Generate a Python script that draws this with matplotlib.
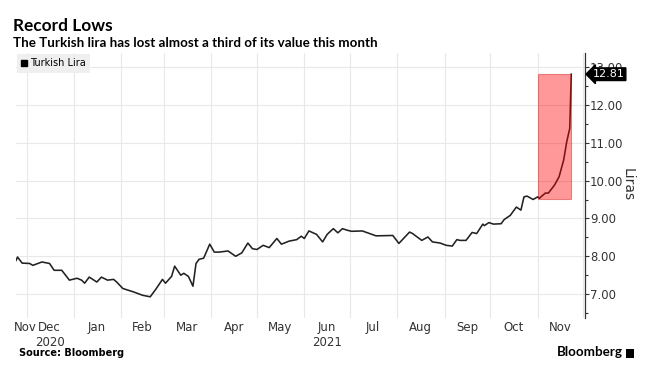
import pandas as pd
import numpy as np
import matplotlib
matplotlib.use("Agg")
import matplotlib.pyplot as plt
import matplotlib.dates as mdates
from matplotlib.lines import Line2D
from matplotlib.patches import Rectangle

# 数据
dates = [
    "2020-11-24", "2020-11-25", "2020-11-28", "2020-12-03", "2020-12-05", "2020-12-11",
    "2020-12-16", "2020-12-19", "2020-12-24", "2020-12-29", "2021-01-03", "2021-01-06",
    "2021-01-08", "2021-01-11", "2021-01-16", "2021-01-19", "2021-01-23", "2021-01-27",
    "2021-01-29", "2021-02-02", "2021-02-09", "2021-02-15", "2021-02-20", "2021-02-24",
    "2021-02-28", "2021-03-02", "2021-03-06", "2021-03-08", "2021-03-12", "2021-03-14",
    "2021-03-17", "2021-03-20", "2021-03-22", "2021-03-24", "2021-03-27", "2021-03-31",
    "2021-04-03", "2021-04-06", "2021-04-12", "2021-04-17", "2021-04-21", "2021-04-25",
    "2021-04-28", "2021-05-01", "2021-05-05", "2021-05-09", "2021-05-14", "2021-05-17",
    "2021-05-22", "2021-05-27", "2021-05-30", "2021-06-01", "2021-06-04", "2021-06-09",
    "2021-06-13", "2021-06-16", "2021-06-20", "2021-06-23", "2021-06-26", "2021-06-29",
    "2021-07-02", "2021-07-09", "2021-07-18", "2021-07-29", "2021-08-02", "2021-08-09",
    "2021-08-11", "2021-08-17", "2021-08-21", "2021-08-24", "2021-08-29", "2021-09-02",
    "2021-09-06", "2021-09-09", "2021-09-11", "2021-09-15", "2021-09-19", "2021-09-22",
    "2021-09-26", "2021-09-27", "2021-09-30", "2021-10-03", "2021-10-08", "2021-10-10",
    "2021-10-14", "2021-10-18", "2021-10-21", "2021-10-23", "2021-10-25", "2021-10-29",
    "2021-11-01", "2021-11-02", "2021-11-06", "2021-11-08", "2021-11-12", "2021-11-15",
    "2021-11-18", "2021-11-20", "2021-11-22", "2021-11-23",
]
lira = [
    7.89, 7.98, 7.82, 7.81, 7.76, 7.85,
    7.81, 7.63, 7.63, 7.37, 7.42, 7.37,
    7.29, 7.45, 7.32, 7.45, 7.37, 7.39,
    7.32, 7.15, 7.06, 6.97, 6.93, 7.15,
    7.39, 7.29, 7.47, 7.74, 7.50, 7.55,
    7.47, 7.21, 7.81, 7.92, 7.95, 8.32,
    8.11, 8.11, 8.14, 8.00, 8.09, 8.35,
    8.20, 8.18, 8.29, 8.23, 8.47, 8.32,
    8.40, 8.44, 8.53, 8.47, 8.67, 8.58,
    8.38, 8.58, 8.73, 8.62, 8.73, 8.69,
    8.66, 8.67, 8.54, 8.55, 8.34, 8.64,
    8.60, 8.42, 8.51, 8.38, 8.35, 8.29,
    8.27, 8.44, 8.42, 8.42, 8.63, 8.60,
    8.85, 8.81, 8.89, 8.85, 8.86, 8.97,
    9.08, 9.30, 9.22, 9.57, 9.59, 9.50,
    9.57, 9.53, 9.67, 9.67, 9.88, 10.10,
    10.54, 11.02, 11.38, 12.81,
]

# 高亮区域 (11月)
highlight_start = "2021-11-01"
highlight_end = "2021-11-23"
highlight_low = 9.52
highlight_high = 12.81

# 月份标签
month_label_dates = ["2020-11-30", "2020-12-16", "2021-01-16", "2021-02-15", "2021-03-16",
                     "2021-04-16", "2021-05-16", "2021-06-16", "2021-07-16", "2021-08-16",
                     "2021-09-16", "2021-10-16", "2021-11-16"]
month_labels = ["Nov", "Dec\n2020", "Jan", "Feb", "Mar", "Apr", "May", "Jun\n2021",
                "Jul", "Aug", "Sep", "Oct", "Nov"]
y_ticks = [7, 8, 9, 10, 11, 12, 13]

series = pd.Series(lira, index=pd.to_datetime(dates))

fig = plt.figure(figsize=(6.52, 3.88), dpi=100)
ax = fig.add_axes([16 / 652, 1 - 318 / 388, (585 - 16) / 652, (318 - 53) / 388])

ax.plot(series.index, series.values, color="#222222", lw=1.15, zorder=3)

# 红色高亮框
x0 = mdates.date2num(pd.Timestamp(highlight_start))
x1 = mdates.date2num(pd.Timestamp(highlight_end))
ax.add_patch(Rectangle((x0, highlight_low), x1 - x0, highlight_high - highlight_low,
                       facecolor="#ff0000", alpha=0.4, edgecolor="#cc0000", lw=0.8, zorder=4))

ax.set_xlim(pd.Timestamp("2020-11-24"), pd.Timestamp("2021-12-02"))
ax.set_ylim(6.37, 13.37)

# 网格: 月初竖线, 整数横线
ax.xaxis.set_major_locator(mdates.MonthLocator())
ax.xaxis.set_major_formatter(plt.NullFormatter())
ax.set_xticks(pd.to_datetime(month_label_dates), month_labels, minor=True)
ax.tick_params(axis="x", which="both", length=0, labelsize=8.5, labelcolor="#333333", pad=2.5)
ax.grid(axis="x", which="major", color="#e8e8e8", lw=0.8)
ax.grid(axis="y", which="major", color="#e8e8e8", lw=0.8)

ax.yaxis.tick_right()
ax.set_yticks(y_ticks)
ax.set_yticks(np.arange(6.5, 13.5, 0.5), minor=True)
ax.yaxis.set_major_formatter(plt.FormatStrFormatter("%.2f"))
ax.tick_params(axis="y", which="major", length=3, width=0.8, color="#333333",
               labelsize=8.4, labelcolor="#333333", pad=0.5)
ax.tick_params(axis="y", which="minor", length=2, width=0.8, color="#333333")
ax.set_axisbelow(True)

for s in ["left", "top", "bottom"]:
    ax.spines[s].set_visible(False)
ax.spines["right"].set_color("#333333")
ax.spines["right"].set_linewidth(0.9)

# 最新值标注
ax.annotate(f"{lira[-1]:.2f}", xy=(1.0, lira[-1]), xycoords=("axes fraction", "data"),
            xytext=(5.5, 0), textcoords="offset points", va="center", ha="left",
            color="white", fontsize=8,
            bbox=dict(boxstyle="larrow,pad=0.12", fc="black", ec="black"), zorder=10,
            annotation_clip=False)

fig.text(628 / 652, 1 - 185 / 388, "Liras", rotation=270, ha="center", va="center",
         fontsize=10, color="#333333")

# 图例
handle = Line2D([], [], marker="s", color="black", linestyle="none", markersize=4.5)
leg = ax.legend([handle], ["Turkish Lira"], loc="upper left", bbox_to_anchor=(0, 1),
                borderaxespad=0.1, fontsize=7, frameon=True, handlelength=0.6,
                handletextpad=0.3, borderpad=0.45, fancybox=False)
leg.get_frame().set_facecolor("#efefef")
leg.get_frame().set_edgecolor("none")
leg.get_frame().set_alpha(1)

# 标题
fig.text(13 / 652, 1 - 31 / 388, "Record Lows", fontsize=12.4, fontweight="bold",
         family="Lato", color="black")
fig.text(13 / 652, 1 - 47 / 388, "The Turkish lira has lost almost a third of its value this month",
         fontsize=9.6, fontweight="bold", family="Lato", color="black")
fig.text(19 / 652, 1 - 356 / 388, "Source: Bloomberg", fontsize=7, fontweight="bold",
         color="black")
fig.text(557 / 652, 1 - 356 / 388, "Bloomberg", fontsize=9.6, fontweight="bold",
         family="Lato", color="black")
fig.patches.append(Rectangle((626 / 652, 1 - 358 / 388), 8 / 652, 9 / 388,
                             transform=fig.transFigure, facecolor="black", edgecolor="none"))

fig.savefig("out.png", dpi=100)
